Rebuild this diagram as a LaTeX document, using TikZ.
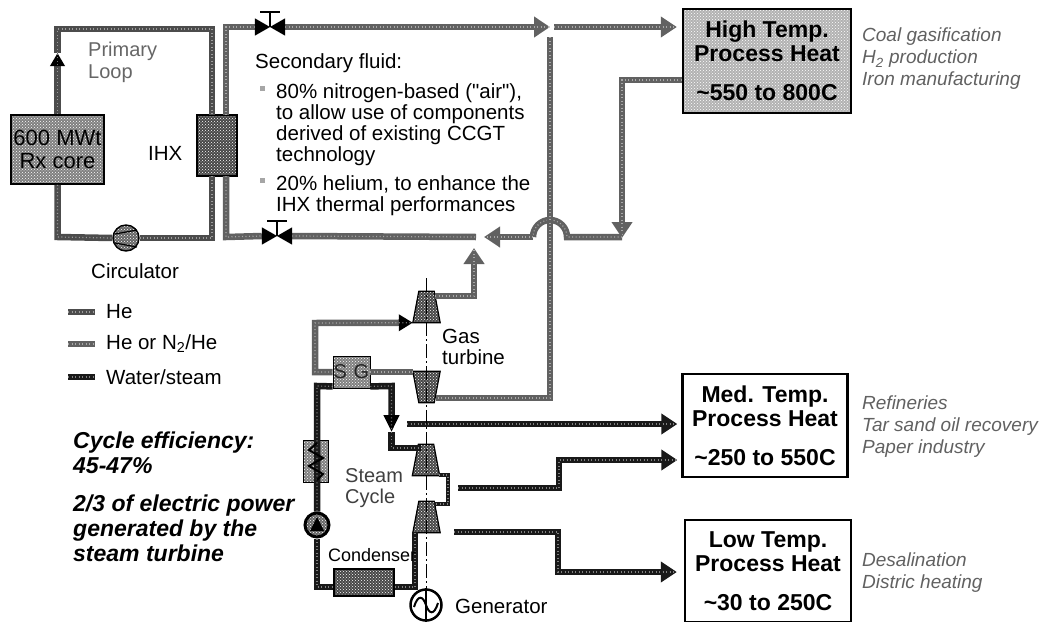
\documentclass[tikz,border=0pt]{standalone}
\usepackage{fontspec}
\setmainfont{Liberation Sans}
\usetikzlibrary{arrows.meta,patterns}

\newcommand{\fmain}{\fontsize{20.5}{21}\selectfont}
\newcommand{\fhead}{\fontsize{23}{24}\bfseries\selectfont}
\newcommand{\fuse}{\fontsize{19}{22}\itshape\selectfont}
\newcommand{\fcycle}{\fontsize{23}{25}\bfseries\itshape\selectfont}

\colorlet{heColor}{black!70}
\colorlet{gasColor}{black!62}
\colorlet{waterColor}{black!90}
\colorlet{useColor}{black!62}

\tikzset{
    pipebase/.style={line width=6.5pt, postaction={draw=white, -, line width=1.2pt, opacity=0.45, dash pattern=on 1pt off 2.5pt}},
    hepipe/.style={pipebase, draw=heColor},
    gaspipe/.style={pipebase, draw=gasColor},
    waterpipe/.style={pipebase, draw=waterColor},
    headtip/.style={-{Triangle[length=16pt,width=20pt]}},
    dotbox/.style={draw=black, line width=1.6pt, preaction={fill=black!50}, pattern=crosshatch dots, pattern color=white, inner sep=0pt},
    lightbox/.style={draw=black, line width=2.4pt, preaction={fill=black!30}, pattern=crosshatch dots, pattern color=white, inner sep=0pt},
    darkbox/.style={draw=black, line width=1.2pt, preaction={fill=black!72}, pattern=crosshatch dots, pattern color=white, inner sep=0pt},
    procbox/.style={draw=black, line width=2.4pt, fill=white, align=center, font=\fhead, inner sep=0pt},
    turbine/.style={inner sep=0pt, minimum width=27pt, minimum height=31pt},
    label/.style={inner sep=0pt, anchor=west, align=left, font=\fmain},
    uselabel/.style={inner sep=0pt, anchor=west, align=left, font=\fuse, text=useColor},
    valvebox/.style={inner sep=0pt, minimum width=30pt, minimum height=17pt},
    bulletbox/.style={inner sep=0pt, minimum size=5pt, fill=black!35}
}

\begin{document}
\begin{tikzpicture}[x=1pt,y=-1pt]
        \useasboundingbox (0,0) rectangle (1043,621);

        % main blocks
        \node[dotbox, minimum width=93pt, minimum height=69pt, align=center, font=\fontsize{22}{23}\selectfont] (core) at (57.5,149.5) {600 MWt\\Rx core};
        \node[darkbox, minimum width=40pt, minimum height=61pt] (ihx) at (217,145.5) {};
        \node[lightbox, minimum width=168pt, minimum height=104pt, align=center, font=\fhead] (high) at (767,61) {High Temp.\\Process Heat\\[15pt]\textasciitilde550 to 800C};
        \node[procbox, minimum width=165pt, minimum height=103pt] (med) at (765,425.5) {Med. Temp.\\Process Heat\\[15pt]\textasciitilde250 to 550C};
        \node[procbox, minimum width=166pt, minimum height=102pt] (low) at (768,571) {Low Temp.\\Process Heat\\[15pt]\textasciitilde30 to 250C};
        \node[draw=black, line width=1.4pt, circle, preaction={fill=black!60}, pattern=crosshatch dots, pattern color=white, minimum size=26pt, inner sep=0pt] (circ) at (126,238) {};
        \node[valvebox] (valveTop) at (270,27) {};
        \node[valvebox] (valveBot) at (277,236) {};

        % turbines
        \node[turbine] (gasT) at (426.5,307) {};
        \node[turbine] (gasC) at (426.5,387) {};
        \node[turbine] (steamA) at (426,460) {};
        \node[turbine] (steamB) at (426.5,517) {};
        \foreach \t in {gasT,steamA,steamB} {
            \path[darkbox] ([xshift=6pt]\t.north west) -- ([xshift=-6pt]\t.north east) -- (\t.south east) -- (\t.south west) -- cycle;
        }
        \path[darkbox] (gasC.north west) -- (gasC.north east) -- ([xshift=-6pt]gasC.south east) -- ([xshift=6pt]gasC.south west) -- cycle;

        % steam side
        \node[dotbox, line width=0.8pt, minimum width=37pt, minimum height=32pt, text=black!85, font=\fontsize{20}{21}\selectfont] (sg) at (351.5,372) {S\,\,G};
        \node[draw=black, line width=3pt, circle, preaction={fill=black!60}, pattern=crosshatch dots, pattern color=white, minimum size=24pt, inner sep=0pt] (pump) at (317,525) {};
        \node[dotbox, line width=0.8pt, minimum width=25pt, minimum height=42pt] (heater) at (315.5,461) {};
        \node[darkbox, line width=2pt, minimum width=60pt, minimum height=27pt] (cond) at (363.5,582) {};
        \node[draw=black, line width=2.5pt, circle, fill=white, minimum size=31pt, inner sep=0pt] (gen) at (426,605) {};

        % bends and free ends
        \coordinate (priIn) at (212,115);
        \coordinate (priOut) at (212,176);
        \coordinate (secTopA) at (226,115);
        \coordinate (secBotA) at (226,176);
        \coordinate (priArrow) at (57.5,53);
        \coordinate (hiTip) at (550,27);
        \coordinate (hiStart) at (554,27);
        \coordinate (retTip) at (476,237);
        \coordinate (retEnd) at (622,237);
        \coordinate (hopR) at (567,237);
        \coordinate (hopL) at (533,237);
        \coordinate (mixTip) at (484,237);
        \coordinate (vertTop) at (550,37);
        \coordinate (vertBot) at (550,398);
        \coordinate (gasBack) at (474,248);
        \coordinate (steamTip) at (391.5,432);
        \coordinate (axisTop) at (426,278);

        % primary loop
        \draw[hepipe, -{Triangle[length=13pt,width=14pt,black]}] (core.north) -- (priArrow);
        \draw[hepipe] (priArrow) -- (57.5,29) -- (212,29) -- (priIn);
        \draw[hepipe] (core.south) -- (57.5,237) -- (circ.west);
        \draw[hepipe] (circ.east) -- (212,238) -- (priOut);

        % secondary loop
        \draw[gaspipe] (secTopA) -- (226,27) -- (valveTop.west);
        \draw[gaspipe, headtip] (valveTop.east) -- (hiTip);
        \draw[gaspipe, headtip, shorten >=5pt] (hiStart) -- (high.west |- hiStart);
        \draw[gaspipe] (secBotA) -- (226,237) -- (valveBot.west);
        \draw[gaspipe] (valveBot.east) -- (retTip);
        \draw[gaspipe, headtip] (high.west |- 0,80) -- (622,80) -- (622,238);
        \draw[gaspipe] (retEnd) -- (hopR) arc (0:-180:17);
        \draw[gaspipe, headtip] (hopL) -- (mixTip);
        \draw[gaspipe] (vertTop) -- (vertBot) -- (436,398);

        % gas turbine
        \draw[gaspipe, headtip] (435,296) -- (474,296) -- (gasBack);
        \draw[gaspipe, -{Triangle[length=14pt,width=16pt,black]}] (sg.west |- 0,372) -- (315,372) -- (315,323) -- (gasT.south west);
        \draw[gaspipe] (sg.east) -- (gasC.north west |- sg.east);

        % water and steam
        \draw[waterpipe] (sg.south west) ++(0,-2) -- (317,386) -- (pump.north);
        \draw[waterpipe] (pump.south) -- (317,587) -- (cond.west |- 0,587);
        \draw[waterpipe] (cond.east |- 0,587) -- (415,587) -- (415,532);
        \draw[waterpipe, -{Triangle[length=17pt,width=15pt,black]}] (sg.south east) ++(0,-2) -- (391.5,386) -- (steamTip);
        \draw[waterpipe] (steamTip) -- (391.5,448) -- (421,448);
        \draw[waterpipe, line width=4pt] (439,475) -- (448,475) -- (448,504) -- (434,504);
        \draw[black, line width=2pt] (317,443) -- (309,450) -- (323,458) -- (309,466) -- (323,474) -- (317,480);
        \fill[black] (pump.center) ++(0,-8) -- ++(7,14) -- ++(-14,0) -- cycle;

        % heat users
        \draw[waterpipe, headtip, shorten >=4pt] (407,424) -- (med.west |- 0,424);
        \draw[waterpipe, headtip, shorten >=4pt] (458,488) -- (559,488) -- (559,460) -- (med.west |- 0,460);
        \draw[waterpipe, headtip, shorten >=7pt] (454,532) -- (558,532) -- (558,572) -- (low.west |- 0,572);

        % shaft and generator
        \draw[black, line width=1pt, dash pattern=on 14pt off 3pt on 2pt off 3pt] (axisTop) -- (gen.north);
        \draw[black, line width=1.6pt] (gen.north) -- (gen.south);
        \draw[black, line width=2pt] (414,607) .. controls (418,594) and (423,596) .. (426,605) .. controls (429,614) and (434,616) .. (438,603);

        % valves
        \foreach \v in {valveTop,valveBot} {
            \fill[black] (\v.north west) -- (\v.south east) -- (\v.north east) -- (\v.south west) -- cycle;
            \draw[black, line width=1.2pt] (\v.center) -- ++(0,-15) ++(-10,0) -- ++(20,0);
        }

        % circulator stripes
        \draw[black, line width=1.2pt] (115,234) -- (137,230);
        \draw[black, line width=1.2pt] (115,243) -- (137,247);

        % texts on the loops
        \node[label, text=black!60, font=\fontsize{20}{22}\selectfont] (primary) at (88,62) {Primary\\Loop};
        \node[label] (ihxText) at (148,153) {IHX};
        \node[label] (circText) at (91,271) {Circulator};
        \node[label] (secText) at (255,63) {Secondary fluid:};
        \node[bulletbox] (bulA) at (262,88) {};
        \node[label] (secA) at (276,125) {80\% nitrogen-based (\textquotedbl air\textquotedbl),\\to allow use of components\\derived of existing CCGT\\technology};
        \node[bulletbox] (bulB) at (262,180) {};
        \node[label] (secB) at (276,196) {20\% helium, to enhance the\\IHX thermal performances};

        % legend
        \node[label] (legHe) at (106,312) {He};
        \node[label] (legMix) at (106,344) {He or N\textsubscript{2}/He};
        \node[label] (legWater) at (106,377) {Water/steam};
        \draw[hepipe] ([xshift=-38pt]legHe.west) -- ([xshift=-11pt]legHe.west);
        \draw[gaspipe] ([xshift=-38pt]legMix.west) -- ([xshift=-11pt]legMix.west);
        \draw[waterpipe] ([xshift=-38pt]legWater.west) -- ([xshift=-11pt]legWater.west);

        % cycle remarks
        \node[label, font=\fcycle] (cycleEff) at (73,453) {Cycle efficiency:\\45-47\%};
        \node[label, font=\fcycle] (cyclePow) at (73,528) {2/3 of electric power\\generated by the\\steam turbine};

        % texts on the plant
        \node[label] (gasText) at (442,347) {Gas\\turbine};
        \node[label, text=black!75, font=\fontsize{20}{21}\selectfont] (steamText) at (345,488) {Steam\\Cycle};
        \node[label, font=\fontsize{18}{20}\selectfont] (condText) at (328,555) {Condenser};
        \node[label] (genText) at (455,606) {Generator};

        % users of the heat
        \node[uselabel] (useHigh) at (862,59) {Coal gasification\\\textit{H}\textsubscript{2} production\\Iron manufacturing};
        \node[uselabel] (useMed) at (862,427) {Refineries\\Tar sand oil recovery\\Paper industry};
        \node[uselabel] (useLow) at (862,573) {Desalination\\Distric heating};
\end{tikzpicture}
\end{document}
